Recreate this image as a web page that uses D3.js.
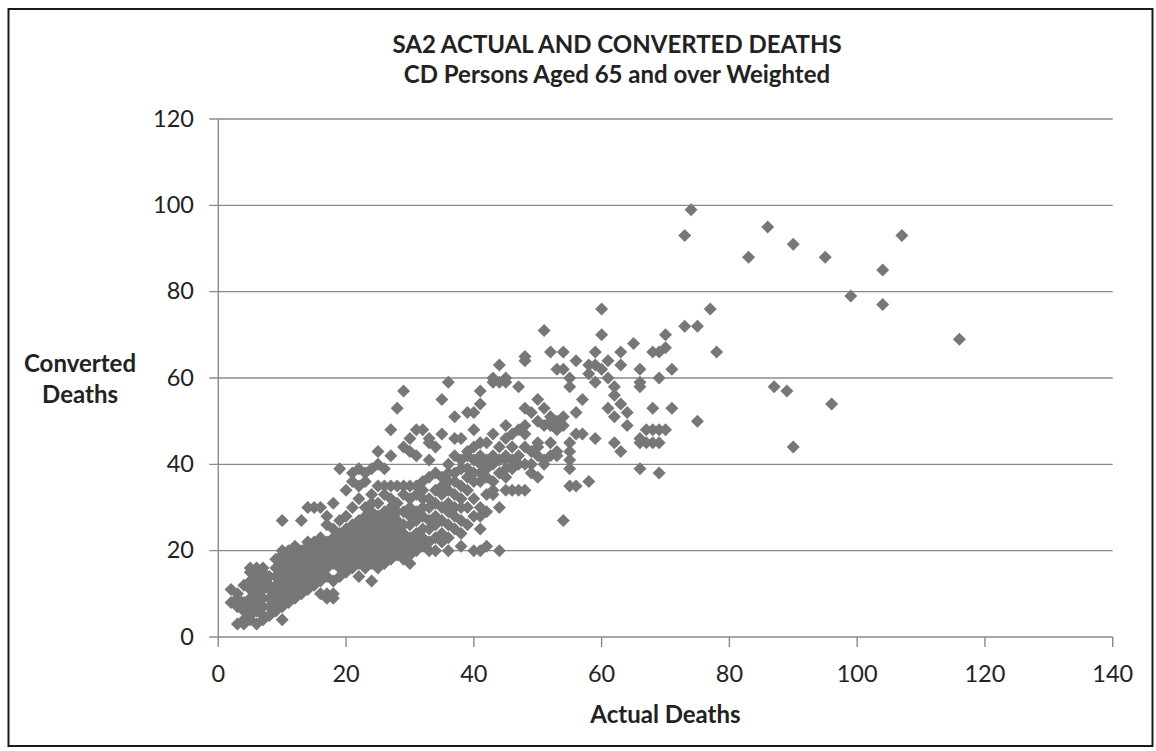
<!DOCTYPE html>
<html>
<head>
<meta charset="utf-8">
<script src="https://cdn.jsdelivr.net/npm/d3@7"></script>
<style>
  body { margin: 0; background: #fff; }
  text { font-family: Lato, "Open Sans", sans-serif; fill: #222; }
</style>
</head>
<body>
<script>
// chart text
const titleLines = ["SA2 ACTUAL AND CONVERTED DEATHS", "CD Persons Aged 65 and over Weighted"];
const xTitle = "Actual Deaths";
const yTitleLines = ["Converted", "Deaths"];

// tick labels
const xTicks = [0, 20, 40, 60, 80, 100, 120, 140];
const yTicks = [0, 20, 40, 60, 80, 100, 120];

// [actual deaths, converted deaths]
const points = [
  [2,8],[2,11],
  [3,3],[3,7],[3,9],[3,10],
  [4,3],[4,4],[4,6],[4,8],[4,12],
  [5,4],[5,5],[5,7],[5,9],[5,11],[5,13],[5,15],[5,16],
  [6,3],[6,6],[6,8],[6,10],[6,12],[6,14],[6,16],
  [7,4],[7,5],[7,7],[7,9],[7,11],[7,13],[7,15],[7,16],
  [8,5],[8,7],[8,9],[8,11],[8,12],[8,14],
  [9,6],[9,8],[9,10],[9,12],[9,14],[9,16],[9,18],
  [10,4],[10,7],[10,9],[10,11],[10,13],[10,15],[10,17],[10,19],[10,20],[10,27],
  [11,8],[11,10],[11,12],[11,14],[11,16],[11,18],[11,20],
  [12,9],[12,11],[12,13],[12,15],[12,17],[12,19],[12,21],
  [13,10],[13,12],[13,14],[13,16],[13,18],[13,20],[13,27],
  [14,11],[14,13],[14,15],[14,17],[14,19],[14,21],[14,22],[14,30],
  [15,12],[15,14],[15,16],[15,18],[15,20],[15,22],[15,30],
  [16,10],[16,13],[16,15],[16,17],[16,19],[16,21],[16,23],[16,30],
  [17,9],[17,10],[17,14],[17,16],[17,18],[17,20],[17,22],[17,26],[17,28],
  [18,9],[18,10],[18,13],[18,17],[18,19],[18,21],[18,23],[18,25],[18,31],
  [19,14],[19,16],[19,18],[19,20],[19,22],[19,24],[19,27],[19,39],
  [20,15],[20,17],[20,19],[20,21],[20,23],[20,25],[20,28],[20,34],
  [21,16],[21,18],[21,20],[21,22],[21,24],[21,26],[21,30],[21,36],[21,38],
  [22,14],[22,17],[22,19],[22,21],[22,23],[22,25],[22,27],[22,32],[22,35],[22,39],
  [23,16],[23,18],[23,20],[23,22],[23,24],[23,26],[23,28],[23,30],[23,36],[23,38],
  [24,13],[24,17],[24,19],[24,21],[24,23],[24,25],[24,27],[24,29],[24,31],[24,33],[24,39],
  [25,16],[25,18],[25,20],[25,22],[25,24],[25,26],[25,28],[25,31],[25,35],[25,40],[25,43],
  [26,17],[26,19],[26,21],[26,23],[26,25],[26,27],[26,29],[26,33],[26,35],[26,39],
  [27,18],[27,20],[27,22],[27,24],[27,26],[27,28],[27,30],[27,32],[27,35],[27,42],[27,48],
  [28,19],[28,21],[28,23],[28,25],[28,27],[28,29],[28,31],[28,35],[28,53],
  [29,18],[29,20],[29,22],[29,24],[29,26],[29,29],[29,33],[29,35],[29,44],[29,57],
  [30,17],[30,19],[30,21],[30,23],[30,26],[30,28],[30,30],[30,32],[30,35],[30,43],[30,46],
  [31,20],[31,22],[31,24],[31,27],[31,29],[31,33],[31,35],[31,42],[31,48],
  [32,21],[32,23],[32,25],[32,28],[32,30],[32,32],[32,34],[32,36],[32,48],
  [33,20],[33,22],[33,25],[33,27],[33,30],[33,32],[33,37],[33,41],[33,45],[33,46],
  [34,20],[34,23],[34,26],[34,28],[34,31],[34,34],[34,38],[34,44],
  [35,22],[35,24],[35,27],[35,30],[35,33],[35,35],[35,37],[35,47],[35,55],
  [36,20],[36,23],[36,26],[36,29],[36,31],[36,34],[36,36],[36,38],[36,40],[36,59],
  [37,25],[37,28],[37,30],[37,33],[37,36],[37,38],[37,42],[37,46],[37,51],
  [38,21],[38,24],[38,27],[38,30],[38,32],[38,35],[38,39],[38,41],[38,46],
  [39,26],[39,30],[39,34],[39,37],[39,39],[39,42],[39,43],[39,52],
  [40,20],[40,28],[40,32],[40,36],[40,38],[40,41],[40,44],[40,48],[40,52],
  [41,20],[41,25],[41,28],[41,30],[41,36],[41,38],[41,40],[41,42],[41,45],[41,54],[41,57],
  [42,21],[42,29],[42,33],[42,37],[42,39],[42,41],[42,45],
  [43,33],[43,34],[43,36],[43,40],[43,42],[43,47],[43,59],[43,60],
  [44,20],[44,30],[44,38],[44,41],[44,44],[44,59],[44,63],
  [45,34],[45,37],[45,39],[45,41],[45,42],[45,46],[45,49],[45,59],[45,60],
  [46,34],[46,39],[46,41],[46,44],[46,47],
  [47,34],[47,40],[47,42],[47,48],[47,58],
  [48,34],[48,40],[48,44],[48,47],[48,49],[48,53],[48,64],[48,65],
  [49,38],[49,40],[49,43],[49,52],
  [50,37],[50,42],[50,44],[50,45],[50,50],[50,55],
  [51,40],[51,41],[51,49],[51,53],[51,71],
  [52,42],[52,45],[52,49],[52,50],[52,51],[52,66],
  [53,42],[53,43],[53,48],[53,50],[53,62],
  [54,27],[54,49],[54,51],[54,62],[54,66],
  [55,35],[55,39],[55,41],[55,43],[55,45],[55,58],[55,60],
  [56,35],[56,47],[56,52],[56,64],
  [57,47],[57,55],
  [58,36],[58,61],[58,63],
  [59,46],[59,59],[59,63],[59,66],
  [60,62],[60,70],[60,76],
  [61,53],[61,60],[61,64],
  [62,45],[62,51],[62,56],[62,58],
  [63,43],[63,54],[63,63],[63,66],
  [64,49],[64,52],
  [65,68],
  [66,39],[66,45],[66,46],[66,58],[66,59],[66,62],
  [67,45],[67,48],
  [68,45],[68,48],[68,53],[68,66],
  [69,38],[69,45],[69,48],[69,60],[69,66],
  [70,48],[70,67],[70,70],
  [71,53],[71,62],
  [73,72],[73,93],
  [74,99],
  [75,50],[75,72],
  [77,76],
  [78,66],
  [83,88],
  [86,95],
  [87,58],
  [89,57],
  [90,44],[90,91],
  [95,88],
  [96,54],
  [99,79],
  [104,77],[104,85],
  [107,93],
  [116,69]
];

const width = 1156, height = 751;
const plot = { left: 218.3, right: 1112.7, top: 119, bottom: 637 };
const gridColor = "#8a8a8a";
const markerColor = "#777777";

const svg = d3.select("body").append("svg")
    .attr("width", width)
    .attr("height", height);

// chart frame
svg.append("rect")
    .attr("x", 8.5).attr("y", 9)
    .attr("width", 1144).attr("height", 737)
    .attr("fill", "#fff")
    .attr("stroke", "#1a1a1a")
    .attr("stroke-width", 2);

const x = d3.scaleLinear().domain([0, 140]).range([plot.left, plot.right]);
const y = d3.scaleLinear().domain([0, 120]).range([plot.bottom, plot.top]);

// horizontal gridlines + y ticks
svg.append("g").selectAll("line")
    .data(yTicks)
    .enter().append("line")
    .attr("x1", plot.left - 9)
    .attr("x2", plot.right)
    .attr("y1", d => y(d))
    .attr("y2", d => y(d))
    .attr("stroke", gridColor)
    .attr("stroke-width", 1.4);

// y axis line
svg.append("line")
    .attr("x1", plot.left).attr("x2", plot.left)
    .attr("y1", plot.top).attr("y2", plot.bottom)
    .attr("stroke", gridColor).attr("stroke-width", 1.4);

// x tick marks
svg.append("g").selectAll("line")
    .data(xTicks)
    .enter().append("line")
    .attr("x1", d => x(d)).attr("x2", d => x(d))
    .attr("y1", plot.bottom).attr("y2", plot.bottom + 10)
    .attr("stroke", gridColor)
    .attr("stroke-width", 1.4);

// tick labels
svg.append("g").selectAll("text")
    .data(yTicks)
    .enter().append("text")
    .attr("x", 194)
    .attr("y", d => y(d) + 7.5)
    .attr("text-anchor", "end")
    .style("font-size", "23.5px")
    .text(d => d);

svg.append("g").selectAll("text")
    .data(xTicks)
    .enter().append("text")
    .attr("x", d => x(d))
    .attr("y", 682)
    .attr("text-anchor", "middle")
    .style("font-size", "23.5px")
    .text(d => d);

// points as diamonds
const r = 6.5;
svg.append("g").selectAll("path")
    .data(points)
    .enter().append("path")
    .attr("transform", d => "translate(" + x(d[0]) + "," + y(d[1]) + ")")
    .attr("d", "M0," + (-r) + "L" + r + ",0L0," + r + "L" + (-r) + ",0Z")
    .attr("fill", markerColor);

// titles
svg.append("g").selectAll("text")
    .data(titleLines)
    .enter().append("text")
    .attr("x", 617)
    .attr("y", (d, i) => 53 + i * 30)
    .attr("text-anchor", "middle")
    .style("font-size", "24px")
    .style("font-weight", "bold")
    .text(d => d);

svg.append("text")
    .attr("x", x(70))
    .attr("y", 723)
    .attr("text-anchor", "middle")
    .style("font-size", "24px")
    .style("font-weight", "bold")
    .text(xTitle);

svg.append("g").selectAll("text")
    .data(yTitleLines)
    .enter().append("text")
    .attr("x", 80)
    .attr("y", (d, i) => 372 + i * 31)
    .attr("text-anchor", "middle")
    .style("font-size", "24px")
    .style("font-weight", "bold")
    .text(d => d);
</script>
</body>
</html>
